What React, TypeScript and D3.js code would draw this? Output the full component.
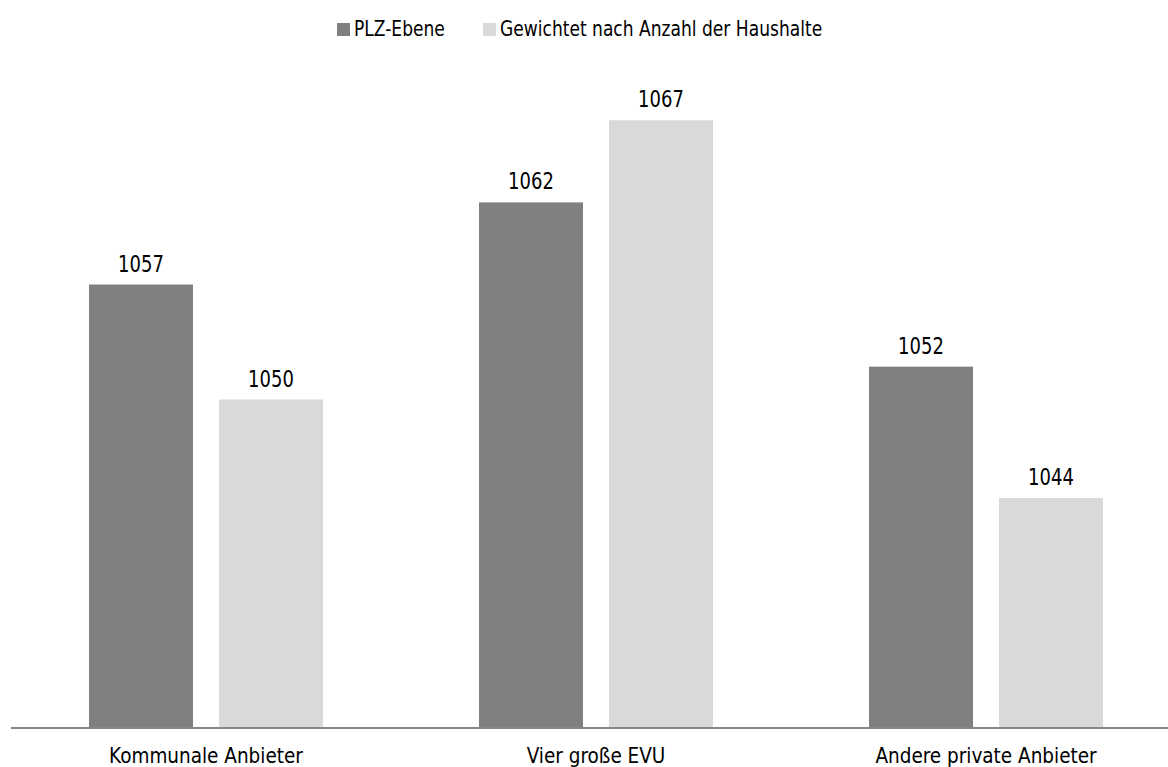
import React from "react";
import * as d3 from "d3";

const categories = ["Kommunale Anbieter", "Vier große EVU", "Andere private Anbieter"];
const seriesNames = ["PLZ-Ebene", "Gewichtet nach Anzahl der Haushalte"];
const plzValues = [1057, 1062, 1052];
const weightedValues = [1050, 1067, 1044];
const seriesColors = ["#808080", "#d9d9d9"];

const W = 1168;
const H = 767;
const FONT = "'DejaVu Sans Condensed', 'DejaVu Sans', sans-serif";

// Text drawn with a slight vertical stretch (tall, narrow lettering)
function TallText(props: {
  x: number;
  y: number;
  size: number;
  sy: number;
  anchor?: "start" | "middle" | "end";
  children: React.ReactNode;
}) {
  const { x, y, size, sy, anchor = "start", children } = props;
  return (
    <text
      transform={`translate(${x},${y}) scale(1,${sy})`}
      textAnchor={anchor}
      fontSize={size}
      fill="#000"
    >
      {children}
    </text>
  );
}

export default function App() {
  const x0 = d3.scaleBand<string>().domain(categories).range([11, 1181]).paddingInner(0).paddingOuter(0);
  const groupPad = 0.2;
  const x1 = d3
    .scaleBand<string>()
    .domain(seriesNames)
    .range([x0.bandwidth() * groupPad, x0.bandwidth() * (1 - groupPad)])
    .paddingInner(0.2)
    .paddingOuter(0);
  const y = d3.scaleLinear().domain([1030, 1070]).range([728, 71]);

  const series = [plzValues, weightedValues];

  return (
    <svg
      width={W}
      height={H}
      viewBox={`0 0 ${W} ${H}`}
      style={{ position: "absolute", left: 0, top: 0, background: "#fff" }}
      fontFamily={FONT}
      fontStretch="condensed"
    >
      {/* legend */}
      <g>
        <rect x={337} y={23} width={13} height={13} fill={seriesColors[0]} />
        <TallText x={354} y={36} size={19} sy={1.1}>
          {seriesNames[0]}
        </TallText>
        <rect x={483} y={23} width={13} height={13} fill={seriesColors[1]} />
        <TallText x={500} y={36} size={19} sy={1.1}>
          {seriesNames[1]}
        </TallText>
      </g>

      {/* bars and value labels */}
      {categories.map((c, ci) => (
        <g key={c} transform={`translate(${x0(c)},0)`}>
          {seriesNames.map((s, si) => {
            const v = series[si][ci];
            const bx = x1(s) as number;
            return (
              <g key={s}>
                <rect
                  x={bx}
                  y={y(v)}
                  width={x1.bandwidth()}
                  height={y(1030) - y(v)}
                  fill={seriesColors[si]}
                />
                <TallText x={bx + x1.bandwidth() / 2} y={y(v) - 13} size={20} sy={1.15} anchor="middle">
                  {v}
                </TallText>
              </g>
            );
          })}
        </g>
      ))}

      {/* category axis */}
      <line x1={11} x2={W} y1={728} y2={728} stroke="#868686" strokeWidth={2} />
      {categories.map((c) => (
        <TallText
          key={c}
          x={(x0(c) as number) + x0.bandwidth() / 2}
          y={763}
          size={20.5}
          sy={1.05}
          anchor="middle"
        >
          {c}
        </TallText>
      ))}
    </svg>
  );
}
